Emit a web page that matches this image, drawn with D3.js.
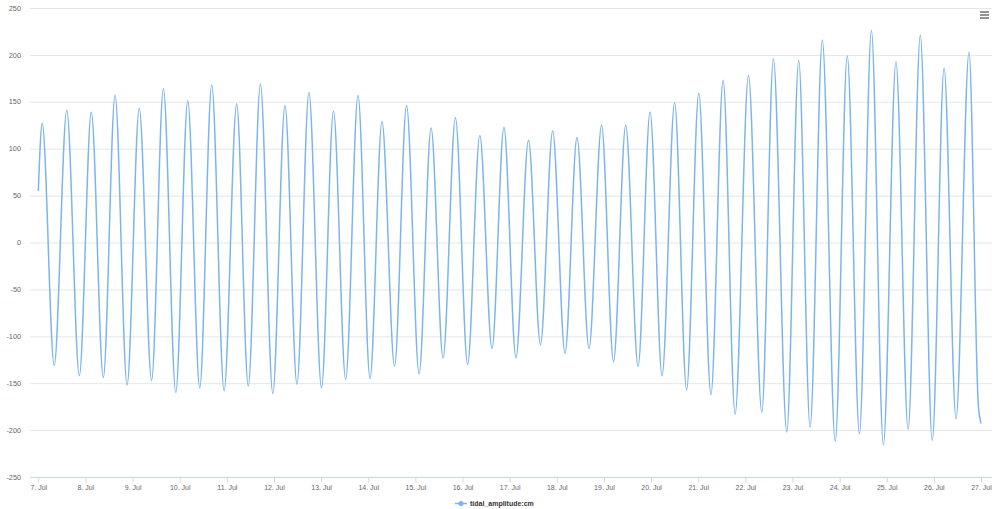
<!DOCTYPE html>
<html>
<head>
<meta charset="utf-8">
<script src="https://cdn.jsdelivr.net/npm/d3@7"></script>
<style>
  html, body { margin: 0; padding: 0; background: #fff; }
  svg { display: block; font-family: "Liberation Sans", Arial, Helvetica, sans-serif; }
</style>
</head>
<body>
<svg id="chart" width="1000" height="509"></svg>
<script>
// ---- data (hours since 7 Jul 00:00, tidal amplitude in cm) ----
const seriesName = "tidal_amplitude:cm";
const startDate = Date.UTC(2019, 6, 7);
const hours = [
  0, 2.0, 8.1, 14.5, 20.9, 27.0, 33.1, 39.1, 45.2, 51.4, 57.7, 63.7, 70.0, 76.1, 82.2, 88.3, 94.6,
  101.0, 106.9, 113.1, 119.4, 125.6, 131.7, 137.8, 144.2, 150.3, 156.5, 162.8, 168.9, 175.0, 181.4,
  187.5, 193.9, 200.0, 206.1, 212.4, 218.6, 224.8, 231.0, 237.1, 243.2, 249.6, 255.7, 261.9, 268.2,
  274.3, 280.4, 286.8, 292.9, 299.1, 305.4, 311.5, 317.6, 324.0, 330.1, 336.3, 342.5, 348.7, 354.8,
  361.6, 368.4, 374.3, 381.1, 387.2, 393.0, 399.2, 405.8, 411.9, 418.1, 424.2, 430.3, 436.7, 442.9,
  449.1, 455.2, 461.2, 467.3, 473.9, 478.6, 480.0
];
const values = [
  55, 127, -131, 141, -142, 139, -144, 157, -152, 143, -147, 164, -160, 151, -155, 168, -158,
  148, -153, 169, -161, 146, -151, 160, -155, 140, -146, 157, -145, 129, -132,
  146, -140, 122, -123, 133, -130, 114, -113, 123, -123, 109, -109, 119, -118,
  112, -113, 125, -127, 125, -132, 139, -142, 149, -157, 159, -162, 173, -183,
  178, -181, 196, -202, 194, -197, 216, -212, 199, -204, 226, -216, 193, -199,
  221, -211, 186, -188, 203, -172, -193
];
const yTicks = [-250, -200, -150, -100, -50, 0, 50, 100, 150, 200, 250];
const monthLabel = "Jul";

// ---- chart ----
const svg = d3.select("#chart");
const plotLeft = 30, plotRight = 992;
const data = hours.map((h, i) => ({ t: new Date(startDate + h * 3600000), v: values[i] }));

const x = d3.scaleUtc()
  .domain([new Date(startDate), new Date(startDate + 20 * 86400000)])
  .range([38.3, 981]);
const y = d3.scaleLinear().domain([-250, 250]).range([477, 8]);

// gridlines
svg.append("g").selectAll("line").data(yTicks.filter(d => d !== -250)).join("line")
  .attr("x1", plotLeft).attr("x2", plotRight)
  .attr("y1", d => y(d) + 0.5).attr("y2", d => y(d) + 0.5)
  .attr("stroke", "#e6e6e6").attr("stroke-width", 1);

// y labels
svg.append("g").selectAll("text").data(yTicks).join("text")
  .attr("x", 21).attr("y", d => y(d) + 2.6)
  .attr("text-anchor", "end")
  .attr("font-size", "7.3px").attr("fill", "#666")
  .text(d => d);

// x axis
const xAxis = d3.axisBottom(x)
  .ticks(d3.utcDay.every(1))
  .tickSize(5)
  .tickPadding(3)
  .tickFormat(d => d.getUTCDate() + ". " + monthLabel);
const gx = svg.append("g").attr("transform", "translate(0,477.5)").call(xAxis);
gx.select(".domain").remove();
gx.append("line").attr("x1", plotLeft).attr("x2", plotRight).attr("y1", 0).attr("y2", 0)
  .attr("stroke", "#ccd6eb");
gx.selectAll(".tick line").attr("stroke", "#ccd6eb");
gx.selectAll(".tick text").attr("fill", "#666").attr("font-size", "7px")
  .attr("font-family", "Liberation Sans, Arial, sans-serif");

// series line
const line = d3.line().x(d => x(d.t)).y(d => y(d.v)).curve(d3.curveMonotoneX);
svg.append("path").datum(data)
  .attr("d", line)
  .attr("fill", "none")
  .attr("stroke", "#7cb5ec")
  .attr("stroke-width", 1.5)
  .attr("stroke-linejoin", "round");

// legend
const lg = svg.append("g").attr("transform", "translate(0,503.5)");
lg.append("line").attr("x1", 455).attr("x2", 467).attr("y1", 0).attr("y2", 0)
  .attr("stroke", "#7cb5ec").attr("stroke-width", 1.5);
lg.append("circle").attr("cx", 461).attr("cy", 0).attr("r", 2.5).attr("fill", "#7cb5ec");
lg.append("text").attr("x", 470).attr("y", 2.5)
  .attr("font-size", "7px").attr("font-weight", "bold").attr("fill", "#333")
  .text(seriesName);

// context menu icon
const menu = svg.append("g");
[12, 15, 18].forEach(yy => {
  menu.append("line").attr("x1", 980).attr("x2", 989).attr("y1", yy).attr("y2", yy)
    .attr("stroke", "#666").attr("stroke-width", 1.4);
});
</script>
</body>
</html>
